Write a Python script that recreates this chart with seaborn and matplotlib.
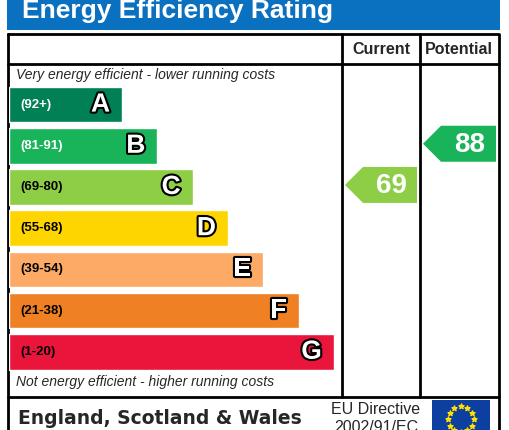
import matplotlib
matplotlib.use("Agg")
import matplotlib.pyplot as plt
import matplotlib.patheffects as pe
import numpy as np
import pandas as pd
import seaborn as sns
from matplotlib.patches import Polygon, Rectangle

sns.set_theme(style="white")
plt.rcParams["font.family"] = ["Liberation Sans", "DejaVu Sans"]

bands = ["A", "B", "C", "D", "E", "F", "G"]
ranges = ["(92+)", "(81-91)", "(69-80)", "(55-68)", "(39-54)", "(21-38)", "(1-20)"]
colors = ["#008054", "#19b459", "#8dce46", "#ffd500", "#fcaa65", "#ef8023", "#e9153b"]
range_text = ["white", "white", "black", "black", "black", "black", "black"]
current = 69
potential = 88
current_band = "C"
potential_band = "B"

W, H = 509, 430
fig = plt.figure(figsize=(W / 100, H / 100), dpi=100)
ax = fig.add_axes([0, 0, 1, 1])
ax.set_xlim(0, W)
ax.set_ylim(H, 0)
ax.axis("off")

# banner
ax.add_patch(Rectangle((7, 0), 493, 30, color="#0a70c0", lw=0))
ax.text(22, 11, "Energy Efficiency Rating", color="white", fontsize=19,
        fontweight="bold", va="center")

# table frame
lw = 2
ax.plot([8, 499, 499, 8, 8], [34, 34, 440, 440, 34], color="black", lw=lw)
ax.plot([8, 499], [64, 64], color="black", lw=lw)
ax.plot([8, 499], [397, 397], color="black", lw=lw)
ax.plot([342, 342], [34, 397], color="black", lw=lw)
ax.plot([420, 420], [34, 397], color="black", lw=lw)
ax.text(381, 49, "Current", fontsize=11.5, fontweight="bold", ha="center", va="center")
ax.text(459, 49, "Potential", fontsize=11.5, fontweight="bold", ha="center", va="center")
ax.text(16, 75, "Very energy efficient - lower running costs", fontsize=10,
        style="italic", va="center")
ax.text(16, 382, "Not energy efficient - higher running costs", fontsize=10,
        style="italic", va="center")

# bars
top, step = 84, 41.2
bx = fig.add_axes([9 / W, 1 - (top + 7 * step) / H, 333 / W, 7 * step / H])
df = pd.DataFrame({"band": bands, "length": [113 + 35.3 * i for i in range(len(bands))]})
sns.barplot(data=df, x="length", y="band", hue="band", palette=colors, legend=False,
            width=0.86, saturation=1, ax=bx)
bx.set_xlim(0, 333)
bx.axis("off")
outline = [pe.withStroke(linewidth=3, foreground="black")]
for i, (b, r) in enumerate(zip(bands, ranges)):
    L = df["length"][i]
    bx.text(11, i, r, fontsize=9.5, fontweight="bold", color=range_text[i], va="center")
    bx.text(L - 12, i, b, fontsize=19, fontweight="bold", color="white",
            ha="right", va="center", path_effects=outline)


def arrow(x0, x1, band, value):
    i = bands.index(band)
    yc = top + step * i + step * 0.45
    h = 18
    pts = [(x0, yc), (x0 + 18, yc - h), (x1, yc - h), (x1, yc + h), (x0 + 18, yc + h)]
    ax.add_patch(Polygon(pts, closed=True, color=colors[i], lw=0))
    ax.text((x0 + 18 + x1) / 2 + 1, yc + 1, str(value), fontsize=20, fontweight="bold",
            color="white", ha="center", va="center")


arrow(345, 417, current_band, current)
arrow(423, 496, potential_band, potential)

# footer
ax.text(18, 418, "England, Scotland & Wales", fontsize=13.5, fontweight="bold",
        va="center", family=["DejaVu Sans"])
ax.text(376, 410, "EU Directive", fontsize=11.5, ha="center", va="center")
ax.text(376, 428, "2002/91/EC", fontsize=11.5, ha="center", va="center")
ax.add_patch(Rectangle((432, 400), 58, 40, color="#0d3fa0", lw=0))
ang = np.linspace(0, 2 * np.pi, 12, endpoint=False)
ax.scatter(461 + 13 * np.cos(ang), 419 + 13 * np.sin(ang), marker="*", s=14,
           color="#ffe000", zorder=5)

fig.savefig("out.png", dpi=100)
